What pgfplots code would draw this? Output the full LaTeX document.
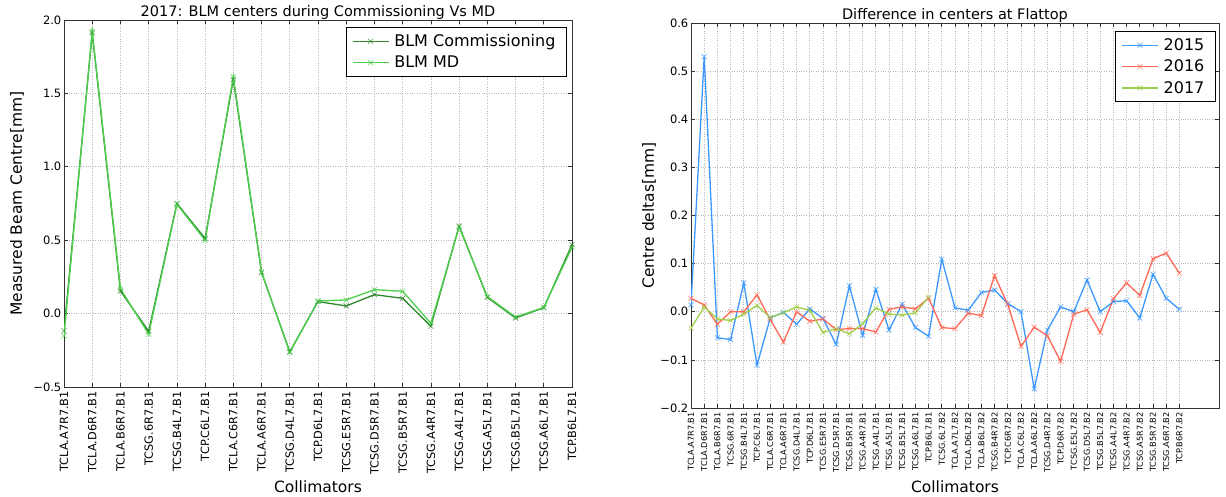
\documentclass[border=0pt]{standalone}
\usepackage{fontspec}
\setmainfont{DejaVu Sans}
\usepackage{pgfplots}
\usepackage{pgfplotstable}
\pgfplotsset{compat=1.18}

\definecolor{commcol}{RGB}{46,135,46}
\definecolor{mdcol}{RGB}{76,208,76}
\definecolor{c15}{RGB}{58,152,255}
\definecolor{c16}{RGB}{255,104,84}
\definecolor{c17}{RGB}{158,206,74}

\pgfplotstableread{
i c m
0 -0.118 -0.152
1 1.912 1.923
2 0.154 0.170
3 -0.120 -0.140
4 0.750 0.745
5 0.512 0.500
6 1.595 1.613
7 0.280 0.282
8 -0.260 -0.265
9 0.082 0.086
10 0.052 0.093
11 0.129 0.163
12 0.104 0.152
13 -0.086 -0.066
14 0.597 0.590
15 0.110 0.116
16 -0.030 -0.024
17 0.040 0.042
18 0.470 0.452
}\leftdata

\pgfplotstableread{
i a b
0 0.014 0.028
1 0.530 0.014
2 -0.054 -0.026
3 -0.058 0.000
4 0.060 0.000
5 -0.111 0.035
6 -0.013 -0.016
7 -0.001 -0.063
8 -0.026 0.000
9 0.006 -0.020
10 -0.014 -0.015
11 -0.068 -0.037
12 0.054 -0.035
13 -0.049 -0.035
14 0.047 -0.042
15 -0.038 0.005
16 0.016 0.010
17 -0.033 0.006
18 -0.051 0.028
19 0.109 -0.033
20 0.008 -0.035
21 0.003 -0.003
22 0.040 -0.008
23 0.045 0.075
24 0.017 0.015
25 0.000 -0.072
26 -0.160 -0.032
27 -0.038 -0.050
28 0.010 -0.103
29 0.000 -0.005
30 0.066 0.004
31 0.000 -0.043
32 0.021 0.027
33 0.023 0.060
34 -0.013 0.034
35 0.078 0.110
36 0.028 0.122
37 0.005 0.080
}\rightdata

\pgfplotstableread{
i g
0 -0.034
1 0.010
2 -0.015
3 -0.018
4 -0.005
5 0.013
6 -0.012
7 -0.002
8 0.010
9 0.003
10 -0.043
11 -0.035
12 -0.046
13 -0.025
14 0.008
15 -0.005
16 -0.007
17 -0.002
18 0.030
}\greendata

\pgfplotsset{
  mpl/.style={
    scale only axis,
    anchor=south west,
    axis line style={black!80, line width=0.9pt},
    tick align=inside,
    major tick length=4pt,
    tick style={black!80, line width=0.7pt},
    grid=major,
    grid style={dotted, black!28, line width=0.7pt},
    yticklabel style={font=\fontsize{11.5}{13}\selectfont, inner sep=2.5pt},
    xticklabel style={rotate=90, anchor=east, inner xsep=4pt, inner ysep=0pt},
    title style={font=\fontsize{14.5}{17}\selectfont, anchor=base, at={(axis description cs:0.5,1)}, yshift=-2.5pt},
    xlabel style={font=\fontsize{15.5}{18}\selectfont, anchor=center},
    ylabel style={font=\fontsize{15.5}{18}\selectfont, anchor=center},
    legend style={draw=black, line width=0.9pt, fill=white, font=\fontsize{16}{19}\selectfont,
      inner xsep=6pt, inner ysep=5pt, row sep=4pt, legend cell align=left,
      nodes={inner xsep=5pt}},
    legend image code/.code={\draw[mark repeat=2,mark phase=2] plot coordinates {(0pt,0pt) (18pt,0pt) (36pt,0pt)};},
  },
  ser/.style={#1, line width=1.3pt, mark=x, mark size=3.5pt, mark options={solid, line width=0.8pt, draw opacity=0.7}},
}

\begin{document}
\begin{tikzpicture}
\useasboundingbox (0pt,0pt) rectangle (1226pt,497pt);
\begin{axis}[mpl,
  at={(64pt,110pt)}, width=508pt, height=367pt,
  xmin=0, xmax=18, ymin=-0.5, ymax=2.0,
  xtick={0,...,18},
  xticklabels={TCLA.A7R7.B1,TCLA.D6R7.B1,TCLA.B6R7.B1,TCSG.6R7.B1,TCSG.B4L7.B1,TCP.C6L7.B1,TCLA.C6R7.B1,TCLA.A6R7.B1,TCSG.D4L7.B1,TCP.D6L7.B1,TCSG.E5R7.B1,TCSG.D5R7.B1,TCSG.B5R7.B1,TCSG.A4R7.B1,TCSG.A4L7.B1,TCSG.A5L7.B1,TCSG.B5L7.B1,TCSG.A6L7.B1,TCP.B6L7.B1},
  xticklabel style={font=\fontsize{11.3}{13}\selectfont},
  ytick={-0.5,0,0.5,1,1.5,2},
  yticklabels={−0.5,0.0,0.5,1.0,1.5,2.0},
  title={2017: BLM centers during Commissioning Vs MD},
  xlabel={Collimators},
  xlabel style={at={(axis description cs:0.5,-0.2725)}},
  ylabel={Measured Beam Centre[mm]},
  ylabel style={at={(axis description cs:-0.0925,0.5)}},
  legend style={at={(axis description cs:0.99,0.981)}, anchor=north east},
]
\addplot[ser=commcol] table[x=i,y=c] {\leftdata};
\addlegendentry{BLM Commissioning}
\addplot[ser=mdcol] table[x=i,y=m] {\leftdata};
\addlegendentry{BLM MD}
\end{axis}

\begin{axis}[mpl,
  at={(691pt,89pt)}, width=528pt, height=385pt,
  xmin=0, xmax=40, ymin=-0.2, ymax=0.6,
  xtick={0,...,37},
  xticklabels={TCLA.A7R7.B1,TCLA.D6R7.B1,TCLA.B6R7.B1,TCSG.6R7.B1,TCSG.B4L7.B1,TCP.C6L7.B1,TCLA.C6R7.B1,TCLA.A6R7.B1,TCSG.D4L7.B1,TCP.D6L7.B1,TCSG.E5R7.B1,TCSG.D5R7.B1,TCSG.B5R7.B1,TCSG.A4R7.B1,TCSG.A4L7.B1,TCSG.A5L7.B1,TCSG.B5L7.B1,TCSG.A6L7.B1,TCP.B6L7.B1,TCSG.6L7.B2,TCLA.A7L7.B2,TCLA.D6L7.B2,TCLA.B6L7.B2,TCSG.B4R7.B2,TCP.C6R7.B2,TCLA.C6L7.B2,TCLA.A6L7.B2,TCSG.D4R7.B2,TCP.D6R7.B2,TCSG.E5L7.B2,TCSG.D5L7.B2,TCSG.B5L7.B2,TCSG.A4L7.B2,TCSG.A4R7.B2,TCSG.A5R7.B2,TCSG.B5R7.B2,TCSG.A6R7.B2,TCP.B6R7.B2},
  xticklabel style={font=\fontsize{8.2}{10}\selectfont},
  ytick={-0.2,-0.1,0,0.1,0.2,0.3,0.4,0.5,0.6},
  yticklabels={−0.2,−0.1,0.0,0.1,0.2,0.3,0.4,0.5,0.6},
  title={Difference in centers at Flattop},
  xlabel={Collimators},
  xlabel style={at={(axis description cs:0.5,-0.205)}},
  ylabel={Centre deltas[mm]},
  ylabel style={at={(axis description cs:-0.0795,0.5)}},
  legend style={at={(axis description cs:0.994,0.979)}, anchor=north east},
]
\addplot[ser=c15] table[x=i,y=a] {\rightdata};
\addlegendentry{2015}
\addplot[ser=c16] table[x=i,y=b] {\rightdata};
\addlegendentry{2016}
\addplot[ser=c17] table[x=i,y=g] {\greendata};
\addlegendentry{2017}
\end{axis}
\end{tikzpicture}
\end{document}
